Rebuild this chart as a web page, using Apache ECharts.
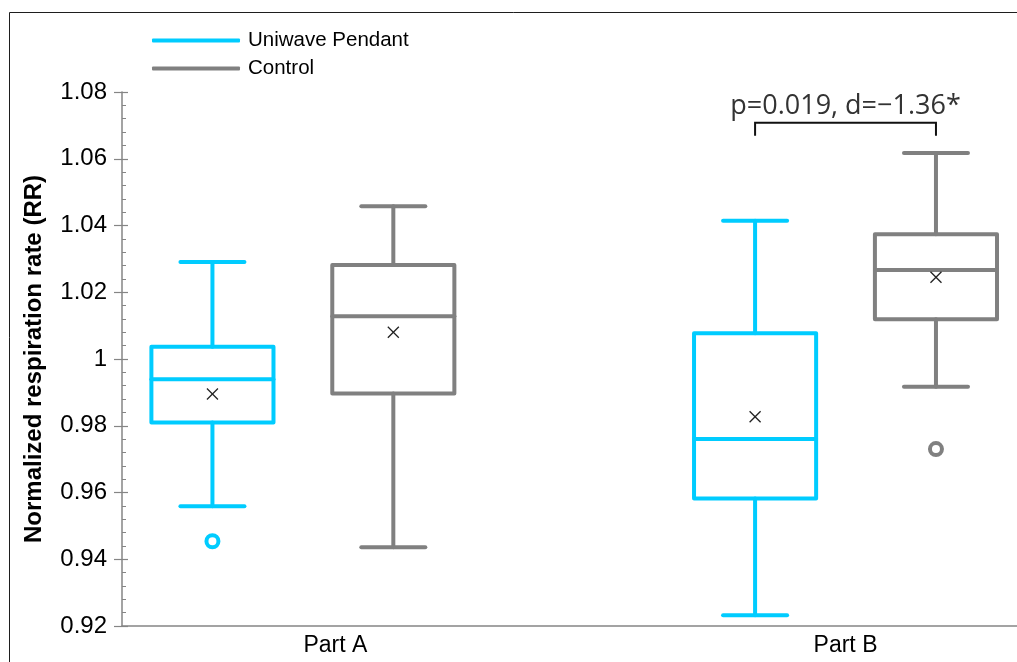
<!DOCTYPE html>
<html>
<head>
<meta charset="utf-8">
<script src="https://cdn.jsdelivr.net/npm/echarts@6/dist/echarts.min.js"></script>
<style>
  html, body { margin: 0; padding: 0; background: #fff; }
  #chart { width: 1017px; height: 662px; }
</style>
</head>
<body>
<div id="chart"></div>
<script>
// ---- data ----
const categories = ['Part A', 'Part B'];
const seriesNames = ['Uniwave Pendant', 'Control'];
// [min, Q1, median, Q3, max] per category
const uniwaveBox = [
  [0.9559, 0.9810, 0.9939, 1.0037, 1.0291],
  [0.9232, 0.9582, 0.9760, 1.0077, 1.0414]
];
const controlBox = [
  [0.9436, 0.9897, 1.0128, 1.0282, 1.0458],
  [0.9917, 1.0119, 1.0267, 1.0374, 1.0617]
];
const uniwaveMean = [0.9895, 0.9827];
const controlMean = [1.0080, 1.0245];
// [category index, value]
const uniwaveOutliers = [[0, 0.9454]];
const controlOutliers = [[1, 0.9730]];
const yTickMin = 0.92, yTickMax = 1.08, yTickStep = 0.02;
const annotationText = 'p=0.019, d=\u22121.36*';
const annotationCategory = 1;
const annotationBarValue = 1.0708;

// ---- layout ----
const CYAN = '#00CCFF', GRAY = '#808080';
const seriesOffset = [-1 / 6, 1 / 6];
const BOX_W = 0.225, CAP_W = 0.118;
const xPos = (ci, si) => ci + 1 + seriesOffset[si];

function boxData(box, mean, si) {
  return box.map((b, ci) => [xPos(ci, si), b[0], b[1], b[2], b[3], b[4], mean[ci]]);
}

function renderBox(params, api) {
  const x = api.value(0);
  const v = [1, 2, 3, 4, 5, 6].map(i => api.value(i));
  const [mn, q1, md, q3, mx, mean] = v;
  const c = (val, dx) => api.coord([x + (dx || 0), val]);
  const hw = BOX_W / 2, cw = CAP_W / 2;
  const color = api.visual('color');
  const st = { stroke: color, lineWidth: 4, fill: null, lineCap: 'round', lineJoin: 'round' };
  const line = (a, b) => ({ type: 'line', shape: { x1: a[0], y1: a[1], x2: b[0], y2: b[1] }, style: st });
  const m = c(mean);
  const s = 5.5;
  const cross = { stroke: '#222', lineWidth: 1.3, fill: null };
  return {
    type: 'group',
    children: [
      line(c(mx), c(q3)),
      line(c(q1), c(mn)),
      line(c(mx, -cw), c(mx, cw)),
      line(c(mn, -cw), c(mn, cw)),
      { type: 'polygon', shape: { points: [c(q3, -hw), c(q3, hw), c(q1, hw), c(q1, -hw)] }, style: st },
      line(c(md, -hw), c(md, hw)),
      { type: 'line', shape: { x1: m[0] - s, y1: m[1] - s, x2: m[0] + s, y2: m[1] + s }, style: cross },
      { type: 'line', shape: { x1: m[0] - s, y1: m[1] + s, x2: m[0] + s, y2: m[1] - s }, style: cross }
    ]
  };
}

function renderAnnotation(params, api) {
  const xl = api.value(0), xr = api.value(1), yb = api.value(2), yt = api.value(3), ytx = api.value(4);
  const p1 = api.coord([xl, yt]), p2 = api.coord([xl, yb]), p3 = api.coord([xr, yb]), p4 = api.coord([xr, yt]);
  const tp = api.coord([(xl + xr) / 2, ytx]);
  return {
    type: 'group',
    children: [
      { type: 'polyline', shape: { points: [p1, p2, p3, p4] }, style: { stroke: '#111', lineWidth: 2, fill: null } },
      { type: 'text', x: tp[0], y: tp[1], style: { text: annotationText, fontFamily: 'Open Sans', fontSize: 27, fill: '#333', align: 'center', verticalAlign: 'middle' } }
    ]
  };
}

const chart = echarts.init(document.getElementById('chart'), null, { renderer: 'canvas' });
const axisGray = '#858585';
const option = {
  animation: false,
  backgroundColor: '#fff',
  textStyle: { fontFamily: 'Liberation Sans' },
  graphic: [{
    type: 'rect', silent: true, z: -10,
    shape: { x: 9.5, y: 12.5, width: 1100, height: 1000 },
    style: { fill: null, stroke: '#1e1e1e', lineWidth: 1 }
  }],
  legend: {
    orient: 'vertical', left: 152, top: 30, padding: 0, itemGap: 7,
    itemWidth: 88, itemHeight: 4,
    data: seriesNames.map(n => ({ name: n, icon: 'roundRect' })),
    textStyle: { fontFamily: 'Liberation Sans', fontSize: 20.5, color: '#000', padding: [0, 0, 0, 3] }
  },
  grid: { left: 122, right: 0, top: 92, bottom: 36, containLabel: false },
  xAxis: {
    type: 'value', min: 2 / 3, max: 2.316,
    splitLine: { show: false },
    axisLine: { show: true, onZero: false, lineStyle: { color: axisGray, width: 1.5 } },
    axisTick: { show: false },
    axisLabel: {
      customValues: [1.06, 2.0],
      formatter: v => categories[Math.round(v) - 1],
      fontFamily: 'Liberation Sans', fontSize: 23, color: '#000', margin: 8
    }
  },
  yAxis: [{
    type: 'value', min: yTickMin, max: yTickMax, interval: yTickStep,
    splitLine: { show: false },
    axisLine: { show: true, lineStyle: { color: axisGray, width: 1.5 } },
    axisTick: { show: true, length: 8, lineStyle: { color: axisGray, width: 1.2 } },
    minorTick: { show: false },
    axisLabel: {
      fontFamily: 'Liberation Sans', fontSize: 24, color: '#000', margin: 15,
      formatter: v => { const s = v.toFixed(2); return s === '1.00' ? '1' : s; }
    },
    name: 'Normalized respiration rate (RR)',
    nameLocation: 'middle', nameGap: 76,
    nameTextStyle: { fontFamily: 'Liberation Sans', fontSize: 24, fontWeight: 'bold', color: '#000' }
  }, {
    type: 'value', min: yTickMin, max: yTickMax, interval: yTickStep, position: 'left',
    splitLine: { show: false },
    axisLine: { show: false },
    axisLabel: { show: false },
    axisTick: { show: true, inside: true, length: 6, lineStyle: { color: axisGray, width: 1.2 } },
    minorTick: { show: true, splitNumber: 5, length: 4, lineStyle: { color: axisGray, width: 1 } }
  }],
  series: [
    {
      name: seriesNames[0], type: 'custom', renderItem: renderBox,
      itemStyle: { color: CYAN },
      encode: { x: 0, y: [1, 2, 3, 4, 5, 6] },
      data: boxData(uniwaveBox, uniwaveMean, 0), z: 3
    },
    {
      name: seriesNames[1], type: 'custom', renderItem: renderBox,
      itemStyle: { color: GRAY },
      encode: { x: 0, y: [1, 2, 3, 4, 5, 6] },
      data: boxData(controlBox, controlMean, 1), z: 3
    },
    {
      name: 'Uniwave outliers', type: 'scatter', symbol: 'circle', symbolSize: 12,
      itemStyle: { color: '#fff', borderColor: CYAN, borderWidth: 4, opacity: 1 },
      data: uniwaveOutliers.map(o => [xPos(o[0], 0), o[1]]), z: 4
    },
    {
      name: 'Control outliers', type: 'scatter', symbol: 'circle', symbolSize: 12,
      itemStyle: { color: '#fff', borderColor: GRAY, borderWidth: 4, opacity: 1 },
      data: controlOutliers.map(o => [xPos(o[0], 1), o[1]]), z: 4
    },
    {
      name: 'annotation', type: 'custom', renderItem: renderAnnotation, silent: true,
      encode: { x: [0, 1], y: [2, 3, 4] },
      data: [[xPos(annotationCategory, 0), xPos(annotationCategory, 1), annotationBarValue, annotationBarValue - 0.0039, annotationBarValue + 0.0048]],
      z: 5
    }
  ]
};
chart.setOption(option);
</script>
</body>
</html>
